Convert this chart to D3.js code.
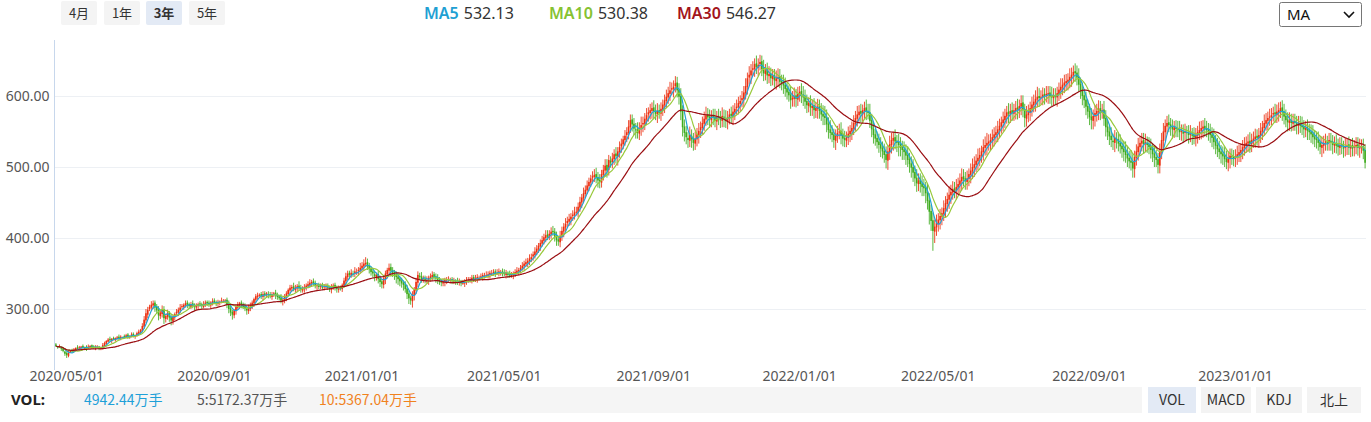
<!DOCTYPE html>
<html><head><meta charset="utf-8">
<script src="https://cdn.jsdelivr.net/npm/d3@7"></script>
<style>
html,body{margin:0;padding:0;background:#fff;}
svg{display:block;font-family:"Noto Sans","Noto Sans CJK SC",sans-serif;}
</style></head><body>
<svg id="c" width="1371" height="422"></svg>
<script>
// ---- daily data ----
const startDate = "2020-04-23";
const holidays = ["2020-05-01","2020-05-04","2020-05-05","2020-06-25","2020-06-26","2020-10-01","2020-10-02","2020-10-05","2020-10-06","2020-10-07","2020-10-08","2021-01-01","2021-02-11","2021-02-12","2021-02-15","2021-02-16","2021-02-17","2021-04-05","2021-05-03","2021-05-04","2021-05-05","2021-06-14","2021-09-20","2021-09-21","2021-10-01","2021-10-04","2021-10-05","2021-10-06","2021-10-07","2022-01-03","2022-01-31","2022-02-01","2022-02-02","2022-02-03","2022-02-04","2022-04-04","2022-04-05","2022-05-02","2022-05-03","2022-05-04","2022-06-03","2022-09-12","2022-10-03","2022-10-04","2022-10-05","2022-10-06","2022-10-07","2023-01-02","2023-01-23","2023-01-24","2023-01-25","2023-01-26","2023-01-27","2023-04-05"];

const closes = [
248,246,247,244,241,237,235,238,241,240,243,245,244,246,247,245,246,244,247,248,
246,245,247,246,244,245,249,252,255,257,256,258,257,259,260,258,261,260,261,263,
261,262,264,262,263,266,268,270,276,285,294,299,303,306,308,302,298,291,295,299,
287,290,294,288,284,289,293,296,299,302,304,306,308,306,304,307,305,303,305,307,
306,304,307,309,308,306,309,311,309,308,310,310,312,311,312,306,300,295,292,298,
303,306,308,306,303,301,298,301,305,309,314,318,319,320,318,321,319,322,320,318,
321,322,319,317,315,312,313,317,322,327,330,331,328,330,332,329,327,329,331,333,
335,337,338,336,333,334,331,333,330,332,332,330,328,331,333,330,328,329,329,334,
340,346,350,348,351,349,353,352,355,358,361,364,365,360,356,352,350,346,348,342,
338,335,343,350,355,358,354,351,348,345,342,339,336,334,328,321,315,312,320,327,
338,348,345,342,344,340,341,344,346,348,345,343,340,338,337,339,341,340,342,341,
339,340,338,337,339,336,337,339,341,340,342,344,341,343,345,344,346,348,347,348,
349,351,350,352,350,351,353,352,350,349,351,348,347,348,350,352,354,355,358,361,
364,366,368,371,373,377,381,385,389,393,397,401,404,402,406,409,408,402,397,395,
403,410,416,420,424,427,430,433,436,437,444,451,457,463,468,474,479,484,487,489,
485,481,479,490,496,502,495,510,506,512,518,515,522,528,533,539,544,549,557,566,
560,554,552,548,555,559,562,568,573,577,580,583,578,575,579,576,582,588,594,599,
604,608,611,613,618,608,599,578,556,548,542,538,545,539,534,540,546,551,556,562,
568,573,570,567,572,570,565,571,569,566,572,568,565,570,574,572,578,582,585,590,
593,597,605,614,625,630,636,639,645,641,644,648,638,632,636,629,631,625,628,622,
625,627,620,618,615,610,605,601,594,597,600,596,603,606,601,598,592,587,590,584,
586,580,583,585,579,574,571,569,560,552,548,545,538,544,548,550,544,540,538,542,
547,551,555,562,569,574,578,575,580,583,578,576,565,553,545,540,535,531,526,522,
517,510,522,532,538,541,536,534,531,527,524,521,516,510,504,499,492,484,477,481,
476,472,470,463,452,437,424,410,416,421,426,431,435,442,449,455,461,465,469,467,
472,476,481,486,483,480,484,490,495,500,504,509,513,517,522,528,531,534,536,538,
542,546,549,553,558,563,567,572,577,575,579,576,580,583,581,586,590,580,569,574,
578,583,588,592,596,599,597,599,602,600,603,604,600,598,601,599,604,609,613,616,
619,621,623,627,630,634,632,626,616,608,600,594,585,578,570,566,572,576,579,582,
578,580,568,556,549,543,538,535,541,538,533,529,525,521,517,512,508,506,498,514,
522,529,534,537,532,535,531,528,524,518,513,510,503,522,538,550,558,562,559,556,
553,556,554,552,549,551,547,550,548,545,547,544,542,545,549,552,555,557,554,552,
549,545,541,535,530,525,521,518,515,511,507,512,516,514,511,515,518,521,524,528,
531,534,536,533,538,540,543,541,545,551,556,562,566,569,571,573,576,574,578,580,
583,577,571,566,563,565,562,564,562,559,561,558,556,553,555,551,549,546,542,539,
538,534,528,531,534,536,533,538,535,531,533,530,528,531,529,526,529,531,527,530,
526,529,531,527,528,530,523,506];

const opens = [
250,247,246,246,244,240,238,234,239,242,240,242,246,244,245,248,244,247,245,246,
249,247,245,246,247,245,244,248,251,254,258,255,259,256,258,261,259,260,262,260,
264,260,261,265,261,262,265,267,269,275,284,292,300,302,305,309,303,299,290,293,
300,286,289,295,289,283,288,294,295,298,303,303,305,309,307,303,308,306,302,304,
308,307,303,306,310,309,305,308,312,310,307,309,311,311,312,313,307,301,296,291,
297,302,305,309,307,304,300,297,300,304,308,313,317,320,321,317,322,320,321,321,
317,320,323,320,318,316,311,312,316,321,326,329,332,327,329,333,330,326,328,330,
332,334,336,339,337,332,333,332,332,331,331,333,331,327,330,334,331,327,330,328,
333,339,345,351,347,350,350,352,353,354,357,360,363,366,361,357,353,349,345,349,
343,339,334,342,349,354,359,355,352,349,346,343,340,337,335,329,322,316,311,319,
326,337,347,346,343,343,341,340,343,345,349,346,344,341,339,336,338,340,341,341,
342,340,339,339,338,338,337,336,338,340,341,341,345,342,342,344,345,345,347,348,
347,348,350,351,353,351,350,352,353,351,348,350,349,348,347,349,351,353,354,357,
360,363,365,367,370,374,376,380,384,388,392,396,400,405,401,405,410,409,403,398,
394,402,409,415,421,423,426,431,432,437,436,443,450,456,462,467,473,478,485,486,
490,486,482,478,489,495,503,496,509,507,511,519,514,521,529,532,538,545,548,556,
567,561,553,553,547,554,560,561,567,574,576,579,584,579,574,580,575,581,587,593,
598,603,609,610,614,619,609,600,579,557,549,541,537,544,540,533,539,545,552,555,
561,567,574,571,566,573,571,564,572,570,565,571,569,564,569,575,571,577,583,584,
589,594,596,604,613,626,629,637,638,646,640,645,649,639,631,637,628,632,624,629,
621,624,628,621,619,616,611,606,602,595,596,601,595,602,607,602,599,593,586,591,
583,587,579,582,586,580,575,572,570,561,553,549,546,537,543,549,551,545,541,537,
541,546,550,554,561,568,573,579,574,579,584,579,577,566,554,546,541,536,532,527,
523,518,509,521,531,537,542,537,535,532,528,525,522,517,511,505,500,493,485,476,
482,477,473,471,464,453,438,425,409,415,420,425,430,434,441,448,454,460,464,470,
466,471,475,480,487,484,479,483,489,494,499,503,508,512,516,521,527,530,533,535,
537,541,545,548,552,557,562,566,571,578,574,580,575,579,584,580,585,591,581,568,
573,577,582,587,591,595,600,598,598,603,601,602,605,601,597,600,598,603,608,612,
615,618,620,622,626,629,635,633,627,617,609,601,595,586,579,571,565,571,575,578,
583,579,581,569,557,550,544,537,534,540,539,534,530,526,522,518,513,509,507,497,
513,521,528,533,538,533,534,532,529,525,519,514,511,502,521,537,549,557,563,560,
557,552,555,555,553,550,550,548,549,549,546,546,545,541,544,548,551,554,558,555,
553,550,546,542,536,531,526,522,519,516,512,506,511,515,515,512,514,517,520,523,
527,530,533,537,532,537,539,544,540,544,550,555,561,565,570,570,574,577,573,577,
579,584,578,572,567,562,566,561,565,563,558,562,559,557,552,556,552,550,547,543,
540,539,535,527,530,535,535,534,537,536,530,534,531,527,532,528,527,528,532,526,
531,527,528,532,526,529,529,524];

const wickUp = [
2,1,3,1,2,1,2,3,1,2,2,1,3,2,1,2,1,2,3,1,
1,2,2,3,1,2,3,2,1,2,3,1,2,1,2,3,2,1,2,2,
2,1,3,2,1,2,3,2,4,5,6,4,3,5,4,3,4,5,3,6,
4,3,5,2,4,3,2,4,3,5,3,2,4,3,2,3,4,2,3,2,
3,2,4,3,2,3,2,4,3,2,3,2,4,3,2,3,5,4,3,2,
3,4,2,3,2,4,3,5,4,3,2,3,4,2,3,4,3,2,4,3,
3,2,4,3,2,5,3,4,3,2,4,3,5,4,3,6,4,3,4,3,
4,5,3,4,3,2,4,3,5,3,4,3,2,4,3,3,2,4,3,2,
4,5,4,3,5,4,6,5,4,7,5,6,8,5,4,3,5,4,3,5,
4,3,5,4,3,6,5,4,3,4,5,3,4,3,4,5,4,3,5,4,
6,5,4,6,3,4,5,3,4,5,3,4,5,4,3,4,3,5,4,3,
3,4,3,5,4,3,4,3,4,5,3,4,3,5,4,3,4,3,4,5,
4,3,5,4,3,5,4,3,4,5,4,3,5,4,3,4,5,3,4,5,
4,5,4,6,5,4,6,5,4,5,6,5,7,6,5,6,7,5,6,5,
7,6,5,8,6,7,5,6,8,7,6,7,5,8,6,7,6,5,7,8,
9,7,8,6,7,9,8,7,6,8,7,9,6,8,7,5,8,7,9,8,
7,8,9,10,8,12,9,8,10,7,9,8,10,9,11,8,9,7,8,10,
9,12,8,9,10,8,9,11,8,10,9,8,12,9,8,10,9,11,8,9,
10,12,9,10,8,9,11,8,10,9,12,10,11,9,8,10,9,8,10,9,
8,10,9,11,8,12,9,10,8,11,9,10,8,12,9,10,11,8,10,9,
11,12,10,9,11,10,8,9,11,10,12,9,10,8,11,12,10,9,8,10,
9,10,8,11,9,10,12,14,11,9,13,10,8,9,10,11,12,9,10,8,
10,8,9,11,10,12,9,10,8,9,11,10,12,9,10,8,9,11,10,9,
10,11,9,12,10,9,11,8,12,10,9,11,10,12,9,10,11,9,12,10,
9,11,10,8,12,10,9,11,10,12,9,10,8,11,10,9,12,10,11,9,
11,9,10,12,10,9,11,8,10,12,11,9,13,10,8,11,12,14,10,9,
11,10,9,12,10,8,11,10,9,12,10,11,9,10,12,9,11,10,8,12,
10,9,11,10,12,14,11,9,10,8,11,10,9,12,10,11,9,10,12,9,
11,10,9,12,10,9,11,10,12,9,10,8,11,9,10,12,9,11,10,12,
10,9,12,11,10,9,12,10,11,9,10,12,9,11,14,12,10,15,11,9,
10,12,9,11,10,12,9,10,11,9,12,10,9,11,10,12,9,10,11,9,
10,9,11,10,12,9,10,11,9,10,12,9,11,10,9,12,10,9,11,10,
9,11,10,12,9,10,11,9,10,12,11,9,10,11,9,10,12,11,9,10,
11,9,10,12,9,10,11,9,10,11,9,12,10,9,11,10,9,12,10,11,
9,10,11,9,10,12,9,11,10,9,11,10,12,9,10,11,9,10,12,9,
10,11,9,12,10,11,9,10,11,9,10,12,9,11,10,9,12,10,11,9,
10,9,11,10,12,9,11,8];

const wickDown = [
1,2,1,3,2,3,4,2,1,2,1,2,1,2,3,1,2,3,1,2,
2,1,3,1,2,3,1,2,2,1,2,3,1,2,1,2,3,1,2,1,
3,2,1,2,3,1,2,3,2,3,4,5,3,4,5,6,5,7,4,5,
8,5,4,6,7,5,4,3,5,4,3,4,3,5,4,3,4,5,3,4,
3,4,2,3,4,3,5,3,2,4,3,4,3,2,4,5,6,5,7,4,
5,3,4,5,3,4,6,4,3,4,5,3,4,3,4,5,3,4,5,3,
4,3,5,4,3,4,6,4,5,3,4,5,3,4,5,3,4,3,5,4,
3,4,5,3,4,5,3,4,3,5,4,3,4,5,3,4,5,4,3,4,
3,5,4,6,3,4,5,4,6,4,5,6,4,5,6,5,6,7,5,6,
7,6,5,7,6,5,8,6,7,9,8,7,6,8,5,7,8,6,9,7,
5,6,4,5,6,4,5,6,4,5,4,6,5,4,5,4,6,5,4,5,
4,5,4,3,5,4,3,5,4,3,4,5,3,4,5,3,4,5,4,3,
4,5,3,4,5,3,4,5,4,3,5,4,3,4,5,4,3,5,4,3,
5,4,6,5,4,6,5,4,5,6,4,5,6,5,4,6,5,7,8,6,
7,6,8,5,7,6,8,7,6,5,7,6,8,7,6,5,7,6,8,7,
8,10,9,7,8,9,10,8,7,9,8,10,12,8,9,7,8,10,9,8,
10,9,12,8,9,10,11,9,8,10,9,11,10,9,12,8,10,9,11,10,
9,10,8,12,9,10,11,12,13,12,10,11,9,12,11,9,10,12,11,9,
10,9,11,12,10,11,9,12,10,11,9,12,10,11,9,10,12,11,9,10,
11,10,12,9,11,10,12,9,11,10,12,9,10,11,9,12,10,11,9,10,
12,11,9,10,12,11,10,9,12,10,11,12,9,10,11,12,10,11,9,12,
11,12,10,14,11,9,12,10,11,12,9,10,11,13,9,10,12,11,10,9,
10,11,12,9,10,11,9,12,10,11,12,9,10,11,12,10,9,11,12,10,
11,12,13,11,12,14,11,13,16,12,14,11,13,10,12,14,13,11,12,10,
12,13,11,14,12,18,14,28,16,12,11,13,12,10,12,11,13,12,10,11,
12,10,11,13,10,12,11,10,12,11,13,10,12,11,10,12,11,13,10,12,
11,12,10,13,11,10,12,11,10,13,12,11,10,12,14,11,12,10,13,11,
10,12,11,10,13,11,12,10,11,12,10,13,11,12,10,11,13,10,12,11,
11,10,12,11,13,10,12,11,10,12,13,11,12,10,11,13,12,14,11,12,
12,11,10,13,11,12,10,11,13,12,11,10,12,13,11,12,10,11,13,12,
11,12,10,11,13,12,11,10,12,11,13,10,12,11,10,13,12,11,10,12,
13,11,12,10,11,13,12,11,10,12,11,13,10,12,11,10,12,13,11,10,
12,11,13,10,12,11,10,13,12,11,10,12,13,11,10,12,11,10,13,12,
11,10,12,13,11,10,12,11,13,10,12,11,10,13,12,11,10,12,11,13,
10,12,11,10,13,11,12,10,11,13,12,10,11,12,10,13,11,12,10,11,
12,11,10,13,11,12,10,11,12,13,10,11,12,10,11,13,12,11,10,12,
11,12,10,11,13,10,12,8];

const maPeriods = [5, 10, 30];
const maLabels = ["MA5", "MA10", "MA30"];
const maValues = ["532.13", "530.38", "546.27"];
const yTicks = [300, 400, 500, 600];
const xTickLabels = ["2020/05/01","2020/09/01","2021/01/01","2021/05/01","2021/09/01","2022/01/01","2022/05/01","2022/09/01","2023/01/01"];
const periodButtons = ["4月", "1年", "3年", "5年"];
const selectedPeriod = "3年";
const volLabel = "VOL:";
const volTexts = ["4942.44万手", "5:5172.37万手", "10:5367.04万手"];
const indicatorButtons = ["VOL", "MACD", "KDJ", "北上"];

// ---- styles ----
const UP = "#eb2f10", DOWN = "#3dab1d";
const maColors = ["#22a3d6", "#98c93b", "#9a0e12"];
const legendColors = ["#1fa0d3", "#86c232", "#a3141b"];

// ---- trading calendar ----
const N = closes.length;
const hol = new Set(holidays);
const dates = [];
{
  let d = new Date(startDate + "T00:00:00Z");
  while (dates.length < N) {
    const dow = d.getUTCDay();
    const iso = d.toISOString().slice(0, 10);
    if (dow !== 0 && dow !== 6 && !hol.has(iso)) dates.push(iso);
    d = new Date(d.getTime() + 86400000);
  }
}

const svg = d3.select("#c");
const L = 55, R = 1366, T = 40, B = 367;
const x = d3.scaleBand().domain(d3.range(N)).range([L, R]).paddingInner(0.12).paddingOuter(0.06);
const cx = i => x(i) + x.bandwidth() / 2;
const y = d3.scaleLinear().domain([218.3, 678.9]).range([B, T]);

svg.append("rect").attr("width", 1371).attr("height", 422).attr("fill", "#fff");

// grid
svg.append("g").selectAll("line").data(yTicks).join("line")
  .attr("x1", L).attr("x2", R).attr("y1", d => Math.round(y(d)) + 0.5).attr("y2", d => Math.round(y(d)) + 0.5)
  .attr("stroke", "#edf0f4").attr("stroke-width", 1);

// y axis
const yAxis = d3.axisLeft(y).tickValues(yTicks).tickFormat(d3.format(".2f")).tickSize(0).tickPadding(5);
const ya = svg.append("g").attr("transform", `translate(${L - 0.5},0)`).call(yAxis);
ya.select(".domain").remove();
ya.selectAll("text").attr("font-size", 14).attr("fill", "#555").attr("font-family", "Noto Sans, sans-serif");
svg.append("line").attr("x1", L - 0.5).attr("x2", L - 0.5).attr("y1", T).attr("y2", B + 3)
  .attr("stroke", "#c7d7ec").attr("stroke-width", 1);

// x tick labels (first trading day on or after each label date)
const tickIdx = xTickLabels.map(t => {
  const iso = t.replace(/\//g, "-");
  return dates.findIndex(d => d >= iso);
});
svg.append("g").selectAll("text").data(xTickLabels).join("text")
  .attr("x", (t, k) => cx(tickIdx[k])).attr("y", 381)
  .attr("text-anchor", "middle").attr("font-size", 14).attr("fill", "#555").text(t => t);

// clip
svg.append("clipPath").attr("id", "plot").append("rect").attr("x", L).attr("y", T).attr("width", R - L).attr("height", B - T);
const plot = svg.append("g").attr("clip-path", "url(#plot)");

const idx = d3.range(N);
const hi = i => Math.max(opens[i], closes[i]) + wickUp[i];
const lo = i => Math.min(opens[i], closes[i]) - wickDown[i];
const col = i => closes[i] >= opens[i] ? UP : DOWN;

plot.append("g").selectAll("line").data(idx).join("line")
  .attr("x1", cx).attr("x2", cx).attr("y1", i => y(hi(i))).attr("y2", i => y(lo(i)))
  .attr("stroke", col).attr("stroke-width", 1).attr("stroke-opacity", 0.85);
plot.append("g").selectAll("rect").data(idx).join("rect")
  .attr("x", i => x(i)).attr("width", x.bandwidth())
  .attr("y", i => y(Math.max(opens[i], closes[i])))
  .attr("height", i => Math.max(1, Math.abs(y(opens[i]) - y(closes[i]))))
  .attr("fill", col);

// moving averages
maPeriods.forEach((p, k) => {
  const ma = idx.map(i => d3.mean(closes.slice(Math.max(0, i - p + 1), i + 1)));
  plot.append("path").datum(idx)
    .attr("d", d3.line().x(cx).y(i => y(ma[i])).curve(d3.curveMonotoneX))
    .attr("fill", "none").attr("stroke", maColors[k]).attr("stroke-width", 1.2);
});

// ---- top bar ----
const pb = svg.append("g");
periodButtons.forEach((t, k) => {
  const bx = 61 + k * 43 - (k >= 2 ? 1 : 0);
  const sel = t === selectedPeriod;
  pb.append("rect").attr("x", bx).attr("y", 1).attr("width", 36).attr("height", 24).attr("rx", 2)
    .attr("fill", sel ? "#e3eaf5" : "#f4f4f4");
  pb.append("text").attr("x", bx + 18).attr("y", 18).attr("text-anchor", "middle")
    .attr("font-size", 13).attr("font-weight", sel ? "bold" : "normal").attr("fill", "#333")
    .attr("font-family", "Noto Sans CJK SC, sans-serif").text(t);
});

const legX = [424, 549, 677];
const lg = svg.append("g").attr("font-size", 16);
maLabels.forEach((t, k) => {
  const tx = lg.append("text").attr("x", legX[k]).attr("y", 19);
  tx.append("tspan").attr("fill", legendColors[k]).attr("font-weight", "600").text(t);
  tx.append("tspan").attr("fill", "#333").attr("dx", 5).text(maValues[k]);
});

// select box
svg.append("rect").attr("x", 1279.5).attr("y", 2.5).attr("width", 82).attr("height", 24).attr("rx", 2)
  .attr("fill", "#fff").attr("stroke", "#767676");
svg.append("text").attr("x", 1287).attr("y", 20).attr("font-size", 15).attr("fill", "#111").text("MA");
svg.append("path").attr("d", "M1344,12 L1349,17 L1354,12").attr("fill", "none").attr("stroke", "#111").attr("stroke-width", 1.6);

// ---- bottom bar ----
svg.append("rect").attr("x", 70).attr("y", 387).attr("width", 1072).attr("height", 26).attr("fill", "#f5f5f5");
svg.append("text").attr("x", 11).attr("y", 405).attr("font-size", 15).attr("font-weight", "bold").attr("fill", "#222").text(volLabel);
const volX = [84, 197, 319];
const volCol = ["#1ea0d8", "#555", "#f0821e"];
volTexts.forEach((t, k) => {
  svg.append("text").attr("x", volX[k]).attr("y", 405).attr("font-size", 14).attr("fill", volCol[k])
    .attr("font-family", "Noto Sans CJK SC, sans-serif").text(t);
});
const ibX = [1148, 1201, 1256, 1307], ibW = [48, 50, 46, 54];
indicatorButtons.forEach((t, k) => {
  svg.append("rect").attr("x", ibX[k]).attr("y", 387).attr("width", ibW[k]).attr("height", 26)
    .attr("fill", k === 0 ? "#e3eaf5" : "#f3f3f3");
  svg.append("text").attr("x", ibX[k] + ibW[k] / 2).attr("y", 405).attr("text-anchor", "middle")
    .attr("font-size", 14).attr("fill", "#333").attr("font-family", "Noto Sans CJK SC, sans-serif").text(t);
});
</script>
</body></html>
